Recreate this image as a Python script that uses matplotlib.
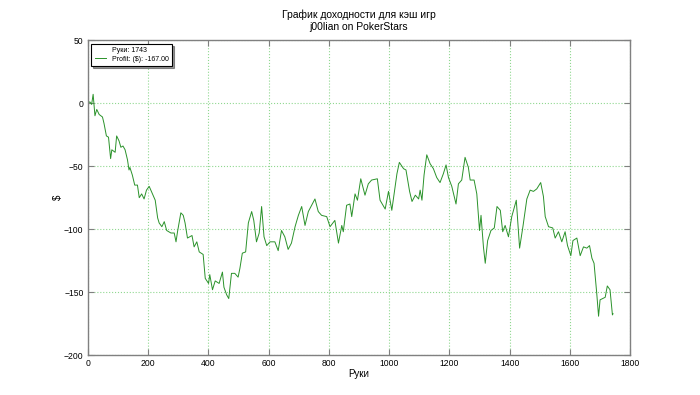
import matplotlib
matplotlib.use("Agg")
import matplotlib.pyplot as plt
from matplotlib.lines import Line2D

plt.rcParams['font.family'] = ['Liberation Sans', 'DejaVu Sans']

# hand number / cumulative profit
hands = [0, 7, 13, 18, 21, 24, 30, 38, 49, 54,
         62, 69, 76, 80, 91, 96, 104, 110, 117, 124,
         132, 137, 140, 148, 156, 165, 171, 179, 187, 195,
         204, 215, 224, 232, 237, 246, 254, 262, 276, 287,
         293, 298, 309, 317, 323, 331, 346, 353, 362, 370,
         383, 390, 401, 405, 414, 423, 436, 447,
         452, 461, 468, 477, 488, 499, 505, 513, 524,
         533, 544, 551, 560, 569, 577, 585, 594, 605, 621,
         632, 643, 654, 665, 676, 688, 699, 710, 721, 732,
         743, 754, 765, 776, 793, 804, 820, 832, 843, 848,
         859, 870, 876, 887, 895, 906, 920, 931, 942, 961,
         970, 987, 998, 1009, 1026, 1034, 1048, 1056, 1068, 1076,
         1087, 1098, 1103, 1109, 1116, 1125, 1136, 1147, 1158, 1169,
         1180, 1189, 1197, 1208, 1222, 1230, 1241, 1252, 1263, 1269,
         1282, 1291, 1300, 1305, 1313, 1319, 1327, 1338, 1349, 1358,
         1369, 1377, 1385, 1396, 1407, 1422, 1433, 1444, 1457, 1468,
         1479, 1490, 1503, 1512, 1518, 1529, 1543, 1551, 1562, 1573,
         1584, 1592, 1603, 1610, 1623, 1634, 1645, 1656, 1665, 1673,
         1680, 1689, 1695, 1700, 1717, 1724, 1733, 1741, 1743]

profit = [0, 1, -1, 7, -2, -10, -5, -9, -11, -16,
          -26, -27, -44, -37, -39, -26, -30, -35, -34, -37,
          -45, -53, -51, -57, -65, -65, -75, -72, -76, -69,
          -66, -72, -77, -91, -95, -98, -94, -101, -103, -103,
          -110, -102, -87, -89, -95, -107, -105, -114, -110, -118,
          -120, -139, -143, -136, -148, -141, -143, -134,
          -146, -152, -155, -135, -135, -138, -131, -119, -118,
          -95, -86, -93, -110, -103, -82, -106, -113, -110, -110,
          -117, -101, -106, -116, -111, -98, -89, -82, -97, -86,
          -81, -76, -86, -89, -90, -98, -93, -111, -97, -102,
          -81, -80, -90, -72, -77, -60, -73, -64, -61, -60,
          -77, -84, -70, -85, -56, -47, -52, -53, -70, -78,
          -73, -76, -69, -77, -57, -41, -48, -52, -59, -63,
          -56, -49, -59, -66, -80, -64, -61, -43, -51, -61,
          -61, -72, -101, -89, -114, -127, -109, -101, -99, -82,
          -85, -102, -97, -106, -90, -77, -115, -98, -76, -69,
          -70, -68, -63, -74, -90, -98, -99, -107, -102, -110,
          -102, -113, -121, -109, -107, -121, -114, -115, -113, -123,
          -127, -151, -169, -156, -154, -145, -148, -168, -167]

title = "График доходности для кэш игр\nj00lian on PokerStars"
legend_labels = ["Руки: 1743", "Profit: ($): -167.00"]

fig = plt.figure(figsize=(7, 3.95), dpi=100)
ax = fig.add_axes([0.1253, 0.1005, 0.775, 0.798])

ax.plot(hands, profit, color='#2a922a', lw=0.7)

ax.set_xlim(0, 1800)
ax.set_ylim(-200, 50)
ax.set_xticks(range(0, 1801, 200))
ax.set_yticks(range(-200, 51, 50))
ax.grid(True, color='#90d890', linestyle=':', lw=0.8)

for s in ax.spines.values():
    s.set_color('#808080')
    s.set_linewidth(1.0)
ax.tick_params(direction='in', top=True, right=True, length=4,
               color='#808080', labelsize=6.2, pad=3)

ax.set_title(title, fontsize=7.5, pad=7, linespacing=1.3)
ax.set_xlabel("Руки", fontsize=7, labelpad=0.5)
ax.set_ylabel("$", fontsize=7, labelpad=1)

handles = [Line2D([], [], color='none'), Line2D([], [], color='#2a922a', lw=0.7)]
leg = ax.legend(handles, legend_labels, loc='upper left', fontsize=5,
                fancybox=False, shadow={'ox': 1.5, 'oy': -1.5, 'color': '#333333'},
                edgecolor='black', framealpha=1, borderpad=0.5,
                handlelength=1.6, handletextpad=0.85, labelspacing=0.25,
                borderaxespad=0.5)
leg.get_frame().set_linewidth(0.8)

fig.savefig("out.png", dpi=100)
